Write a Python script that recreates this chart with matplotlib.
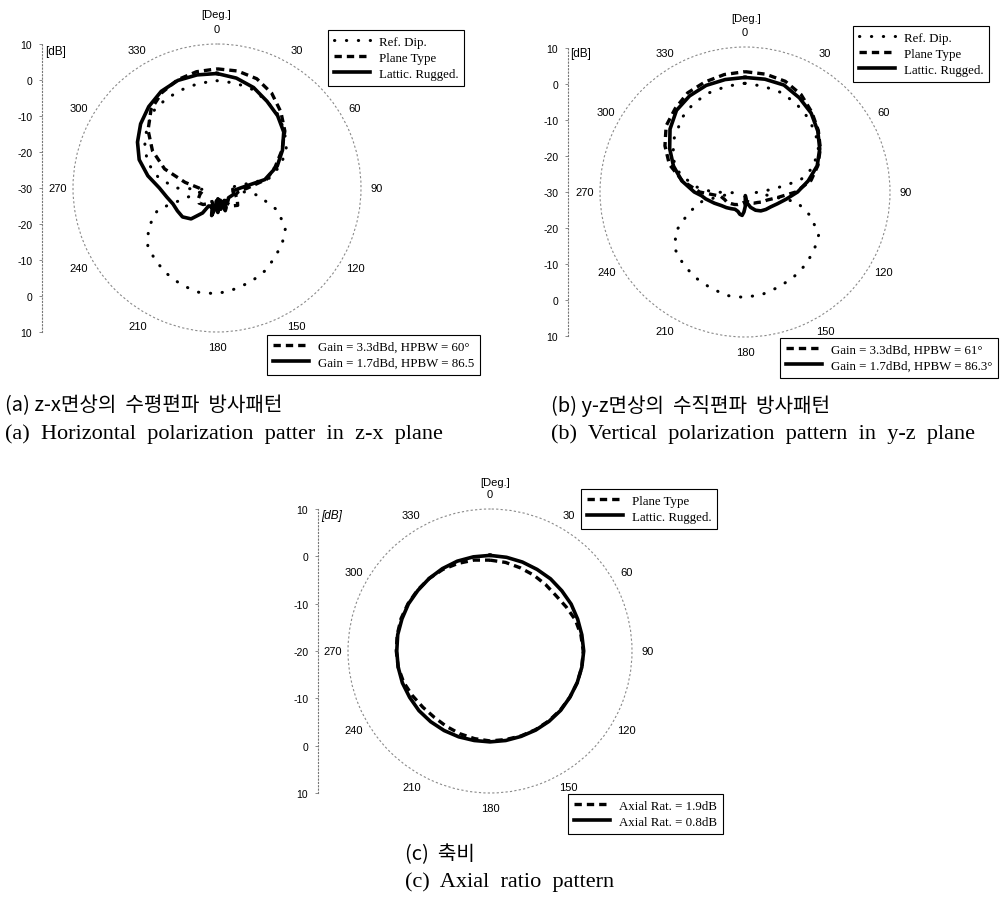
import numpy as np
import matplotlib
matplotlib.use("Agg")
import matplotlib.pyplot as plt
from matplotlib.lines import Line2D

# ---------------- data: angle [deg] / level [dB] ----------------
# (a) z-x plane, horizontal polarization
ang_ref_a = [0, 10, 20, 30, 40, 50, 60, 70, 80, 90, 100, 110, 120, 130, 140, 150, 160, 170,
             180, 190, 200, 210, 220, 230, 240, 250, 262, 270, 280, 290, 300, 310, 320, 330, 340, 350]
ref_a = [-0.2, -0.4, -0.9, -2.2, -3.5, -5.5, -7.8, -11.0, -15.5, -27.0, -18.5, -12.3, -8.0, -6.3, -4.9,
         -3.4, -2.3, -1.5, -0.6, -0.6, -1.3, -2.4, -3.5, -4.9, -8.0, -12.5, -27.0, -18.5, -13.5, -9.5,
         -6.8, -4.5, -2.3, -1.5, -1.0, -0.5]

ang_plane_a = [0, 10, 20, 30, 40, 50, 60, 70, 80, 90, 100, 110, 120, 130, 140, 150, 160, 170,
               180, 190, 200, 210, 220, 230, 240, 250, 260, 270, 280, 290, 300, 310, 320, 330, 340, 350]
plane_a = [3.1, 3.0, 2.3, 0.4, -2.4, -5.4, -9.2, -12.8, -16.0, -21.5, -24.0, -24.5, -23.5, -22.5, -23.5,
           -25.5, -26.5, -25.0, -24.0, -24.5, -26.0, -25.0, -24.0, -23.5, -24.0, -25.0, -26.0, -25.0,
           -21.0, -14.5, -9.3, -5.0, -1.5, 0.6, 2.0, 2.8]

ang_lat_a = [0, 10, 20, 30, 40, 50, 60, 70, 80, 90, 100, 110, 120, 130, 140, 150, 155, 160, 165, 170,
             175, 178, 182, 186, 191, 195, 200, 205, 210, 220, 230, 240, 250, 260, 270, 280, 290, 300,
             310, 320, 330, 340, 350]
lat_a = [1.8, 1.0, -0.3, -2.2, -3.8, -5.8, -9.0, -12.2, -16.5, -23.5, -25.5, -25.0, -25.5, -25.8, -25.3,
         -26.0, -24.0, -23.3, -26.5, -24.0, -27.0, -23.2, -26.5, -24.0, -22.2, -25.0, -24.5, -24.5, -22.0,
         -18.8, -17.5, -17.3, -17.0, -15.8, -14.0, -10.5, -7.0, -4.5, -2.3, -0.5, 1.0, 1.8, 1.9]

# (b) y-z plane, vertical polarization
ang_ref_b = [0, 10, 20, 30, 40, 50, 60, 70, 78, 84, 93, 101, 110, 120, 130, 140, 150, 160, 170, 180,
             190, 200, 210, 220, 230, 240, 250, 258, 266, 270, 276, 285, 295, 307, 320, 330, 340, 350]
ref_b = [0.0, -0.4, -0.8, -1.8, -3.1, -4.6, -6.6, -10.0, -14.4, -22.0, -27.0, -15.4, -10.8, -6.5, -5.1,
         -3.9, -3.0, -2.2, -1.4, -0.9, -1.0, -1.9, -2.7, -3.7, -5.0, -7.8, -13.5, -18.0, -27.0, -21.0,
         -16.5, -11.5, -8.0, -5.5, -3.1, -1.7, -0.9, -0.4]

ang_plane_b = [0, 10, 20, 30, 40, 50, 60, 70, 80, 90, 100, 110, 120, 130, 140, 150, 160, 170, 180,
               190, 200, 210, 220, 230, 240, 250, 260, 270, 280, 290, 300, 310, 320, 330, 340, 350]
plane_b = [3.2, 3.0, 2.5, 1.0, -1.3, -3.6, -6.0, -8.6, -11.5, -16.0, -21.0, -23.5, -24.5, -25.5, -26.0,
           -26.5, -27.0, -27.5, -27.0, -27.0, -26.5, -26.0, -25.5, -25.0, -24.3, -24.0, -23.2, -17.5,
           -12.5, -7.8, -4.5, -1.6, 0.0, 1.6, 2.3, 2.9]

ang_lat_b = [0, 10, 20, 30, 40, 50, 60, 70, 80, 90, 100, 110, 120, 130, 140, 150, 160, 170, 175, 179,
             183, 187, 193, 200, 210, 220, 230, 240, 250, 260, 265, 270, 280, 290, 300, 310, 320, 330,
             340, 350]
lat_b = [1.6, 1.6, 1.4, 0.0, -1.6, -3.8, -6.2, -8.8, -12.3, -15.5, -18.5, -20.5, -21.8, -22.5, -23.2,
         -24.2, -25.5, -27.0, -29.0, -26.0, -24.5, -23.5, -23.7, -24.3, -24.5, -24.0, -23.3, -22.5,
         -21.0, -19.0, -18.0, -16.0, -12.3, -9.0, -6.0, -3.0, -0.6, 0.6, 1.3, 1.5]

# (c) axial ratio
ang_c = [0, 10, 20, 30, 40, 50, 60, 70, 80, 90, 100, 110, 120, 130, 140, 150, 160, 170,
         180, 190, 200, 210, 220, 230, 240, 250, 260, 270, 280, 290, 300, 310, 320, 330, 340, 350]
plane_c = [-0.8, -1.0, -1.3, -1.5, -1.7, -1.8, -1.4, -0.8, -0.5, -0.3, -0.3, -0.4, -0.5, -0.6, -0.7,
           -0.8, -0.9, -1.0, -1.0, -1.2, -1.4, -1.6, -1.7, -1.5, -1.1, -0.6, -0.3, -0.2, -0.1, 0.0,
           0.0, 0.0, 0.0, -0.1, -0.3, -0.5]
lat_c = [0.2, 0.1, 0.0, -0.1, -0.1, -0.2, -0.2, -0.3, -0.3, -0.2, -0.3, -0.4, -0.5, -0.5, -0.6,
         -0.7, -0.8, -0.8, -0.8, -0.8, -0.7, -0.6, -0.5, -0.4, -0.4, -0.3, -0.3, -0.3, -0.2, -0.2,
         -0.1, -0.1, 0.0, 0.1, 0.2, 0.2]

tick_deg = list(range(0, 360, 30))
scale_ab = ['10', '0', '-10', '-20', '-30', '-20', '-10', '0', '10']
scale_c = ['10', '0', '-10', '-20', '-10', '0', '10']

# ---------------- styles ----------------
W, H = 1001, 903
fig = plt.figure(figsize=(W / 100, H / 100), dpi=100)
fig.patch.set_facecolor('white')

SANS = 'Liberation Sans'
SERIF = 'Liberation Serif'
KOR = ['Noto Sans CJK KR', 'DejaVu Sans']

st_ref = dict(color='black', lw=2.2, linestyle=(0, (0.1, 3.8)), dash_capstyle='round')
st_plane = dict(color='black', lw=2.4, linestyle=(0, (2.2, 1.5)))
st_lat = dict(color='black', lw=2.6, linestyle='-')


def px(l, t, w, h):
    return [l / W, 1 - (t + h) / H, w / W, h / H]


def closed(a, v):
    a = np.deg2rad(np.append(a, a[0] + 360))
    v = np.append(v, v[0])
    return a, v


def polar_panel(cx, cy, rad, rmin, rmax):
    ax = fig.add_axes(px(cx - rad, cy - rad, 2 * rad, 2 * rad), projection='polar')
    ax.set_theta_zero_location('N')
    ax.set_theta_direction(-1)
    ax.set_ylim(rmin, rmax)
    ax.set_xticks(np.deg2rad(tick_deg))
    ax.set_xticklabels([str(d) for d in tick_deg], fontsize=8, family=SANS)
    ax.set_yticks([])
    ax.grid(False)
    ax.spines['polar'].set_linestyle((0, (1, 3)))
    ax.spines['polar'].set_color('#8a8a8a')
    ax.spines['polar'].set_linewidth(0.8)
    ax.tick_params(axis='x', direction='in', length=4, width=0.6, colors='black', pad=4)
    for t in ax.xaxis.get_ticklines():
        t.set_color('#8a8a8a')
    ax.patch.set_alpha(0)
    return ax


def left_scale(x, top, bottom, labels, dbx, dby, italic=False):
    ax = fig.add_axes(px(x, top, 1, bottom - top))
    ax.set_ylim(len(labels) - 1, 0)
    ax.set_yticks(range(len(labels)))
    ax.set_yticklabels(labels, fontsize=7.5, family=SANS)
    ax.set_xticks([])
    for s in ['top', 'right', 'bottom']:
        ax.spines[s].set_visible(False)
    ax.spines['left'].set_linestyle((0, (1, 2)))
    ax.spines['left'].set_color('#777777')
    ax.spines['left'].set_linewidth(0.8)
    ax.tick_params(axis='y', direction='out', length=2, width=0.6, color='#777777', pad=5)
    ax.patch.set_alpha(0)
    fig.text(dbx / W, 1 - dby / H, '[dB]', fontsize=8.5, family=SANS, va='center', ha='left',
             style='italic' if italic else 'normal')


def legend_box(ax, handles, labels, x, y):
    lg = ax.legend(handles, labels, loc='upper left', bbox_to_anchor=(x / W, 1 - y / H),
                   bbox_transform=fig.transFigure, borderaxespad=0, frameon=True, fancybox=False,
                   framealpha=1, edgecolor='black', handlelength=2.8, handletextpad=0.7,
                   borderpad=0.45, labelspacing=0.3, prop={'family': SERIF, 'size': 9.3})
    lg.get_frame().set_linewidth(0.8)
    return lg


def deg_label(x, y):
    fig.text(x / W, 1 - y / H, '[Deg.]', fontsize=8, family=SANS, ha='center', va='center')


# ---------------- (a) ----------------
ax_a = polar_panel(217, 189, 144, -30, 10)
h1, = ax_a.plot(*closed(ang_ref_a, ref_a), **st_ref)
h2, = ax_a.plot(*closed(ang_plane_a, plane_a), **st_plane)
h3, = ax_a.plot(*closed(ang_lat_a, lat_a), **st_lat)
lg = legend_box(ax_a, [h1, h2, h3], ['Ref. Dip.', 'Plane Type', 'Lattic. Rugged.'], 328, 31)
ax_a.add_artist(lg)
legend_box(ax_a, [Line2D([], [], **st_plane), Line2D([], [], **st_lat)],
           ['Gain = 3.3dBd, HPBW = 60°', 'Gain = 1.7dBd, HPBW = 86.5'], 267, 336)
left_scale(42, 45, 333, scale_ab, 45, 52)
deg_label(216, 15)

# ---------------- (b) ----------------
ax_b = polar_panel(745, 193, 145, -30, 10)
h1, = ax_b.plot(*closed(ang_ref_b, ref_b), **st_ref)
h2, = ax_b.plot(*closed(ang_plane_b, plane_b), **st_plane)
h3, = ax_b.plot(*closed(ang_lat_b, lat_b), **st_lat)
lg = legend_box(ax_b, [h1, h2, h3], ['Ref. Dip.', 'Plane Type', 'Lattic. Rugged.'], 853, 27)
ax_b.add_artist(lg)
legend_box(ax_b, [Line2D([], [], **st_plane), Line2D([], [], **st_lat)],
           ['Gain = 3.3dBd, HPBW = 61°', 'Gain = 1.7dBd, HPBW = 86.3°'], 780, 339)
left_scale(568, 49, 337, scale_ab, 570, 54)
deg_label(746, 19)

# ---------------- (c) ----------------
ax_c = polar_panel(490, 652, 142, -20, 10)
h2, = ax_c.plot(*closed(ang_c, plane_c), **st_plane)
h3, = ax_c.plot(*closed(ang_c, lat_c), **st_lat)
lg = legend_box(ax_c, [h2, h3], ['Plane Type', 'Lattic. Rugged.'], 581, 490)
ax_c.add_artist(lg)
legend_box(ax_c, [Line2D([], [], **st_plane), Line2D([], [], **st_lat)],
           ['Axial Rat. = 1.9dB', 'Axial Rat. = 0.8dB'], 568, 795)
left_scale(318, 510, 794, scale_c, 321, 516, italic=True)
deg_label(495, 483)

# ---------------- captions ----------------
fig.text(5 / W, 1 - 406 / H, '(a) z-x면상의  수평편파  방사패턴', fontsize=14.5, family=KOR, va='center')
fig.text(5 / W, 1 - 434 / H, '(a)  Horizontal  polarization  patter  in  z-x  plane', fontsize=16,
         family=SERIF, va='center')
fig.text(551 / W, 1 - 406 / H, '(b) y-z면상의  수직편파  방사패턴', fontsize=14.5, family=KOR, va='center')
fig.text(551 / W, 1 - 434 / H, '(b)  Vertical  polarization  pattern  in  y-z  plane', fontsize=16,
         family=SERIF, va='center')
fig.text(405 / W, 1 - 855 / H, '(c)  축비', fontsize=14.5, family=KOR, va='center')
fig.text(405 / W, 1 - 882 / H, '(c)  Axial  ratio  pattern', fontsize=16, family=SERIF, va='center')

fig.savefig('out.png', dpi=100, facecolor='white')
